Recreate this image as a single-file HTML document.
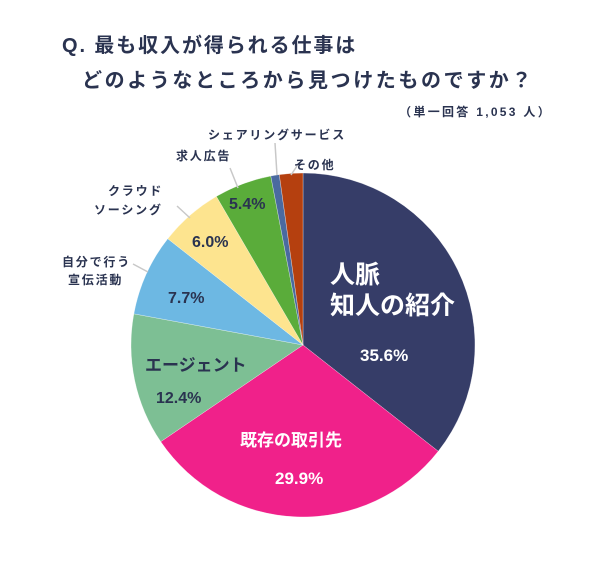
<!DOCTYPE html>
<html><head><meta charset="utf-8"><style>
body{margin:0;background:#fff;}
svg text{font-family:"Liberation Sans","Noto Sans CJK JP",sans-serif;font-weight:bold;}
.sm{letter-spacing:1.8px;}
</style></head><body>
<svg id="s" width="600" height="560" viewBox="0 0 600 560" xmlns="http://www.w3.org/2000/svg">
<g id="pie"></g>
<g stroke="#c8c8c8" stroke-width="1.5">
<line x1="148" y1="272" x2="133" y2="264"/>
<line x1="190" y1="218" x2="177" y2="206"/>
<line x1="238" y1="188" x2="230" y2="168"/>
<line x1="277" y1="175" x2="275" y2="143"/>
<line x1="291" y1="175" x2="297" y2="166"/>
</g>
<g fill="#2a3350">
<text x="62" y="52" font-size="20" letter-spacing="1.9">Q. 最も収入が得られる仕事は</text>
<text x="82" y="87" font-size="20" letter-spacing="2.6">どのようなところから見つけたものですか？</text>
<text x="552" y="116" font-size="12" text-anchor="end" letter-spacing="2.3">（単一回答 1,053 人）</text>
<text class="sm" x="62" y="266" font-size="12">自分で行う</text>
<text class="sm" x="68" y="284" font-size="12">宣伝活動</text>
<text class="sm" x="108" y="195" font-size="12">クラウド</text>
<text class="sm" x="94" y="214" font-size="12">ソーシング</text>
<text class="sm" x="176" y="160" font-size="12">求人広告</text>
<text class="sm" x="208" y="139" font-size="12">シェアリングサービス</text>
<text class="sm" x="294" y="169" font-size="12">その他</text>
<text x="229" y="209" font-size="16">5.4%</text>
<text x="192" y="247" font-size="16">6.0%</text>
<text x="168" y="303" font-size="16">7.7%</text>
<text x="145" y="371" font-size="17">エージェント</text>
<text x="156" y="403" font-size="16">12.4%</text>
</g>
<g fill="#fff">
<text x="330" y="283" font-size="25">人脈</text>
<text x="330" y="314" font-size="25">知人の紹介</text>
<text x="360" y="361" font-size="17">35.6%</text>
<text x="240" y="446" font-size="17">既存の取引先</text>
<text x="275" y="484" font-size="17">29.9%</text>
</g>
</svg>
<script>
var cx=303,cy=345,r=172;
var d=[[35.6,"#363d68"],[29.9,"#f0218a"],[12.4,"#7dbf94"],[7.7,"#6db8e3"],[6.0,"#fde48f"],[5.4,"#5aac3a"],[0.8,"#4a6aa0"],[2.2,"#b5400f"]];
var a=0,g=document.getElementById("pie"),h="";
d.forEach(function(e){var a2=a+e[0]/100*2*Math.PI;
var x1=cx+r*Math.sin(a),y1=cy-r*Math.cos(a),x2=cx+r*Math.sin(a2),y2=cy-r*Math.cos(a2);
h+='<path d="M'+cx+','+cy+' L'+x1+','+y1+' A'+r+','+r+' 0 '+((a2-a)>Math.PI?1:0)+' 1 '+x2+','+y2+' Z" fill="'+e[1]+'" stroke="#fff" stroke-width="0.3"/>';a=a2;});
g.innerHTML=h;
</script>
</body></html>
